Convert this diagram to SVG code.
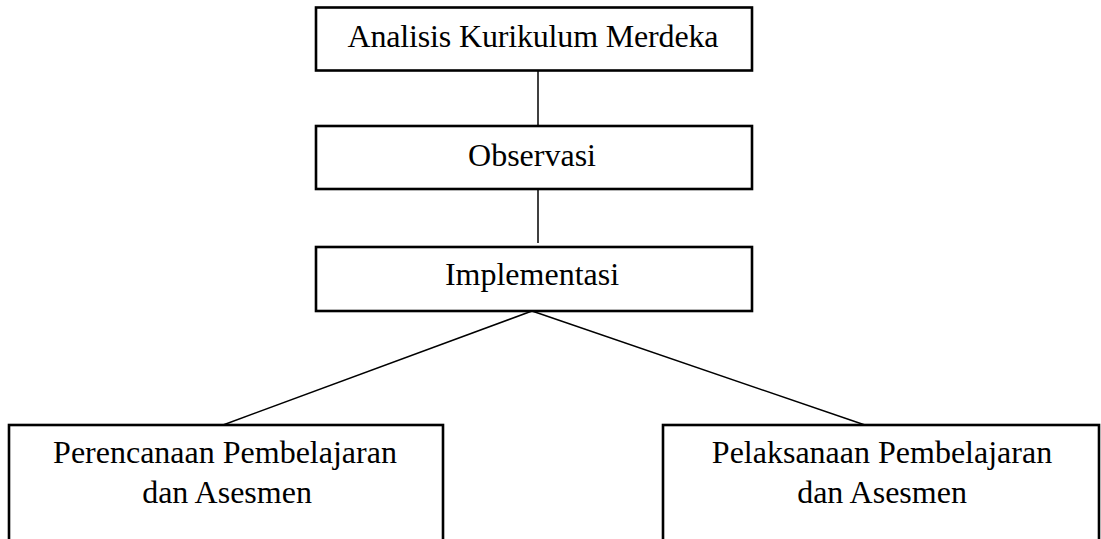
<svg xmlns="http://www.w3.org/2000/svg" width="1101" height="539" viewBox="0 0 1101 539">
<style>
.box{fill:#fff;stroke:#000;stroke-width:2.6}
.lbl{font-family:"Liberation Serif","Times New Roman",serif;font-size:32px;fill:#000;text-anchor:middle}
.conn{stroke:#000;stroke-width:1.5;fill:none}
</style>
<rect width="1101" height="539" fill="#fff"/>
<g id="connectors">
<line class="conn" x1="538" y1="71" x2="538" y2="126"/>
<line class="conn" x1="538" y1="189" x2="538" y2="243"/>
<line class="conn" x1="532" y1="311" x2="223" y2="425"/>
<line class="conn" x1="532" y1="311" x2="865" y2="425"/>
</g>
<g id="node-analisis">
<rect class="box" x="316" y="7.5" width="436" height="63"/>
<text class="lbl" x="533" y="47" textLength="371" lengthAdjust="spacing">Analisis Kurikulum Merdeka</text>
</g>
<g id="node-observasi">
<rect class="box" x="316" y="126" width="436" height="63"/>
<text class="lbl" x="532" y="166">Observasi</text>
</g>
<g id="node-implementasi">
<rect class="box" x="316" y="247" width="436" height="64"/>
<text class="lbl" x="532" y="285">Implementasi</text>
</g>
<g id="node-perencanaan">
<rect class="box" x="9" y="425" width="434" height="130"/>
<text class="lbl" x="225" y="463">Perencanaan Pembelajaran</text>
<text class="lbl" x="227" y="503">dan Asesmen</text>
</g>
<g id="node-pelaksanaan">
<rect class="box" x="663" y="425" width="436" height="130"/>
<text class="lbl" x="882" y="463">Pelaksanaan Pembelajaran</text>
<text class="lbl" x="882" y="503">dan Asesmen</text>
</g>
</svg>
